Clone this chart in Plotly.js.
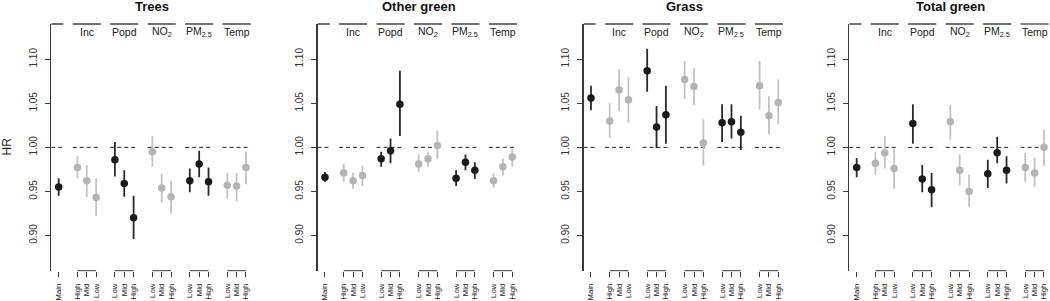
<!DOCTYPE html>
<html>
<head>
<meta charset="utf-8">
<script src="https://cdn.plot.ly/plotly-3.0.1.min.js"></script>
<style>
  html, body { margin: 0; padding: 0; background: #fff; }
  #chart { width: 1050px; height: 301px; }
</style>
</head>
<body>
<div id="chart"></div>
<script>
// ---------------- DATA ----------------
const panelTitles = ['Trees', 'Other green', 'Grass', 'Total green'];
const groupLabels = ['Inc', 'Popd', 'NO<sub>2</sub>', 'PM<sub>2.5</sub>', 'Temp'];
const incLevels = ['High', 'Mid', 'Low'];
const otherLevels = ['Low', 'Mid', 'High'];
// shade of each block: Main, Inc, Popd, NO2, PM2.5, Temp
const blockShade = ['dark', 'light', 'dark', 'light', 'dark', 'light'];

// order: Main; Inc High/Mid/Low; Popd Low/Mid/High; NO2 L/M/H; PM2.5 L/M/H; Temp L/M/H
const treesHR = [0.955, 0.977, 0.962, 0.943, 0.986, 0.959, 0.920, 0.995, 0.954, 0.944, 0.962, 0.981, 0.961, 0.957, 0.956, 0.977];
const treesLo = [0.945, 0.965, 0.944, 0.922, 0.967, 0.944, 0.896, 0.978, 0.937, 0.925, 0.949, 0.966, 0.945, 0.942, 0.939, 0.958];
const treesHi = [0.965, 0.990, 0.980, 0.965, 1.006, 0.974, 0.945, 1.013, 0.970, 0.962, 0.976, 0.996, 0.977, 0.971, 0.971, 0.995];

const otherHR = [0.966, 0.971, 0.962, 0.968, 0.987, 0.996, 1.049, 0.981, 0.987, 1.002, 0.965, 0.983, 0.974, 0.962, 0.978, 0.989];
const otherLo = [0.961, 0.961, 0.953, 0.956, 0.978, 0.982, 1.013, 0.972, 0.978, 0.987, 0.956, 0.974, 0.964, 0.954, 0.968, 0.978];
const otherHi = [0.972, 0.981, 0.971, 0.979, 0.995, 1.010, 1.087, 0.992, 0.995, 1.019, 0.974, 0.992, 0.983, 0.971, 0.987, 0.999];

const grassHR = [1.056, 1.030, 1.065, 1.054, 1.087, 1.023, 1.037, 1.077, 1.069, 1.005, 1.028, 1.029, 1.017, 1.070, 1.036, 1.051];
const grassLo = [1.042, 1.011, 1.041, 1.028, 1.063, 0.999, 1.004, 1.055, 1.048, 0.979, 1.006, 1.010, 0.997, 1.043, 1.015, 1.026];
const grassHi = [1.070, 1.050, 1.089, 1.080, 1.112, 1.047, 1.070, 1.098, 1.090, 1.032, 1.049, 1.049, 1.036, 1.098, 1.058, 1.077];

const totalHR = [0.977, 0.982, 0.994, 0.976, 1.027, 0.964, 0.952, 1.029, 0.974, 0.950, 0.970, 0.994, 0.974, 0.977, 0.971, 1.000];
const totalLo = [0.966, 0.969, 0.976, 0.953, 1.004, 0.949, 0.932, 1.009, 0.957, 0.932, 0.954, 0.982, 0.959, 0.961, 0.955, 0.979];
const totalHi = [0.988, 0.995, 1.013, 0.999, 1.049, 0.980, 0.971, 1.048, 0.992, 0.969, 0.986, 1.012, 0.990, 0.994, 0.988, 1.020];

const yTicks = [0.90, 0.95, 1.00, 1.05, 1.10];
const yTickText = ['0.90', '0.95', '1.00', '1.05', '1.10'];
const refHR = 1.00;

// ---------------- LAYOUT / DRAW ----------------
const panelData = [
  [treesHR, treesLo, treesHi],
  [otherHR, otherLo, otherHi],
  [grassHR, grassLo, grassHi],
  [totalHR, totalLo, totalHi]
];

const W = 1050, H = 301;
const UNIT = 9.365;                // px per x unit
const LEFT_PX = [51.2, 317.5, 583.5, 849.2];
const TOP_PX = 24, BOT_PX = 270.7;
const FONT = 'Liberation Sans, Arial, Helvetica, sans-serif';
const DARK_PT = '#1a1a1a', DARK_LN = '#2a2a2a';
const LIGHT_PT = '#b4b4b4', LIGHT_LN = '#c2c2c2';
const AX = '#3a3a3a';

// category positions: Main at 1, each block of three separated by one gap
const xPos = [1];
const tickText = ['Main'];
for (let g = 0; g < groupLabels.length; g++) {
  const lv = g === 0 ? incLevels : otherLevels;
  for (let k = 0; k < 3; k++) { xPos.push(3 + 4 * g + k); tickText.push(lv[k]); }
}
const blockOf = i => (i === 0 ? 0 : 1 + Math.floor((i - 1) / 3));

const traces = [];
const shapes = [];
const annotations = [];
const layout = {
  width: W, height: H,
  margin: { l: 0, r: 0, t: 0, b: 0, pad: 0 },
  paper_bgcolor: '#fff', plot_bgcolor: '#fff',
  showlegend: false,
  font: { family: FONT, color: '#222' },
  shapes: shapes, annotations: annotations
};

const yDom = [(H - BOT_PX) / H, (H - TOP_PX) / H];

panelData.forEach((pd, p) => {
  const [hr, lo, hi] = pd;
  const sfx = p === 0 ? '' : String(p + 1);
  const xa = 'x' + sfx, ya = 'y' + sfx;
  const x0px = LEFT_PX[p];
  const x1px = Math.min(x0px + 21.6 * UNIT, W);
  const xr = [0.2, 0.2 + (x1px - x0px) / UNIT];

  layout['xaxis' + sfx] = {
    domain: [x0px / W, x1px / W], range: xr, anchor: ya,
    showgrid: false, zeroline: false, showline: false,
    tickmode: 'array', tickvals: xPos, ticktext: tickText,
    ticks: 'outside', ticklen: 5, tickwidth: 1, tickcolor: AX,
    tickangle: -90, tickfont: { size: 7.7, family: FONT, color: '#222' },
    ticklabelstandoff: 4, automargin: false, fixedrange: true
  };
  layout['yaxis' + sfx] = {
    domain: yDom, range: [0.86, 1.14], anchor: xa,
    showgrid: false, zeroline: false, showline: true, linecolor: AX, linewidth: 1.2,
    tickmode: 'array', tickvals: yTicks, ticktext: yTickText,
    ticks: 'outside', ticklen: 5, tickwidth: 1, tickcolor: AX,
    tickangle: -90, tickfont: { size: 10, family: FONT, color: '#333' },
    ticklabelstandoff: 4, automargin: false, fixedrange: true
  };

  ['dark', 'light'].forEach(shade => {
    const idx = hr.map((_, i) => i).filter(i => blockShade[blockOf(i)] === shade);
    traces.push({
      type: 'scatter', mode: 'markers', xaxis: xa, yaxis: ya,
      x: idx.map(i => xPos[i]), y: idx.map(i => hr[i]),
      marker: { size: 7.5, color: shade === 'dark' ? DARK_PT : LIGHT_PT, line: { width: 0 } },
      error_y: {
        type: 'data', symmetric: false,
        array: idx.map(i => hi[i] - hr[i]), arrayminus: idx.map(i => hr[i] - lo[i]),
        thickness: 1.8, width: 0, color: shade === 'dark' ? DARK_LN : LIGHT_LN
      },
      hoverinfo: 'skip'
    });
  });

  // header & reference segments per block
  const segs = [[0.2, 1.5]];
  for (let g = 0; g < groupLabels.length; g++) segs.push([2.5 + 4 * g, 5.5 + 4 * g]);
  segs.forEach(s => {
    shapes.push({ type: 'line', xref: xa, yref: ya + ' domain', x0: s[0], x1: s[1], y0: 1, y1: 1,
      line: { color: '#444', width: 1.3 } });
    shapes.push({ type: 'line', xref: xa, yref: ya, x0: s[0], x1: s[1], y0: refHR, y1: refHR,
      line: { color: '#222', width: 1, dash: '4px,3px' }, layer: 'below' });
  });
  // bottom axis lines per block
  for (let g = 0; g < groupLabels.length; g++) {
    shapes.push({ type: 'line', xref: xa, yref: ya + ' domain', x0: 3 + 4 * g, x1: 5 + 4 * g, y0: 0, y1: 0,
      line: { color: AX, width: 1 } });
    annotations.push({ xref: xa, yref: 'paper', x: 4 + 4 * g, y: (H - 32.5) / H,
      text: groupLabels[g], showarrow: false, xanchor: 'center', yanchor: 'middle',
      font: { size: 10.5, family: FONT, color: '#222' } });
  }
  annotations.push({ xref: 'paper', yref: 'paper', x: (x0px + 21.6 * UNIT / 2) / W, y: (H - 6) / H,
    text: '<b>' + panelTitles[p] + '</b>', showarrow: false, xanchor: 'center', yanchor: 'middle',
    font: { size: 13, family: FONT, color: '#111' } });
});

annotations.push({ xref: 'paper', yref: 'paper', x: 6.5 / W, y: (H - 147) / H,
  text: 'HR', textangle: -90, showarrow: false, xanchor: 'center', yanchor: 'middle',
  font: { size: 12, family: FONT, color: '#222' } });

Plotly.newPlot('chart', traces, layout, { staticPlot: true, displayModeBar: false });
</script>
</body>
</html>
